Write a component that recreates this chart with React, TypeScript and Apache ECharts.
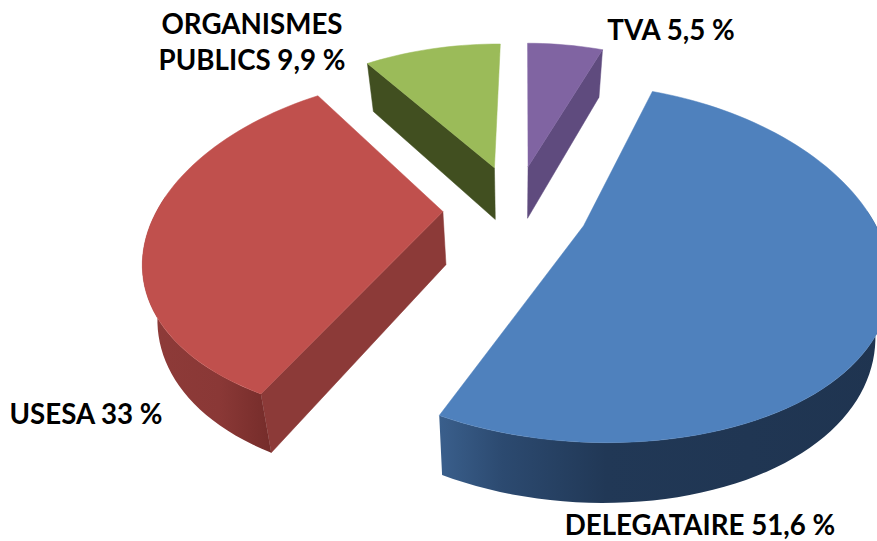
import React, { useEffect, useRef } from "react";
import * as echarts from "echarts";

const categories = ["DELEGATAIRE", "USESA", "ORGANISMES PUBLICS", "TVA"];
const shares = [51.6, 33, 9.9, 5.5];
const topColors = ["#4F81BD", "#C0504D", "#9BBB59", "#8064A2"];
const radialWallColors = ["#2a466c", "#8c3a38", "#414F20", "#5F4B7E"];
const arcStops: [number, string][][] = [
  [[0, "#3A5F8C"], [0.14, "#2C4A70"], [0.37, "#213856"], [1, "#1F3450"]],
  [[0, "#8E3B39"], [0.6, "#8A3836"], [1, "#752C2A"]],
  [[0, "#414F20"], [1, "#414F20"]],
  [[0, "#5F4B7E"], [1, "#5F4B7E"]],
];
const labelLines = [
  { text: "ORGANISMES", x: 252, y: 23 },
  { text: "PUBLICS 9,9 %", x: 252, y: 59 },
  { text: "TVA 5,5 %", x: 671, y: 29 },
  { text: "USESA 33 %", x: 86, y: 413 },
  { text: "DELEGATAIRE 51,6 %", x: 700, y: 524 },
];

const startAngle = 20.3;
const sliceNudgeX = [-2, 7, 3, 2];
const CX = 513, CY = 208, RX = 285, RY = 164, PX = 0.24, PY = 0.205, EXPLODE = 0.27, DEPTH = 53, SHRINK = 0.96;
const rad = (d: number) => (d * Math.PI) / 180;

function App() {
  const ref = useRef<HTMLDivElement>(null);
  useEffect(() => {
    document.body.style.margin = "0";
    const chart = echarts.init(ref.current!, undefined, { renderer: "svg" });
    const total = shares.reduce((a, b) => a + b, 0);
    let acc = 0;
    const rows = shares.map((v) => {
      const row = [v, acc];
      acc += v;
      return row;
    });
    const renderItem = (params: any, api: any) => {
      const i = params.dataIndex;
      const a0 = startAngle + (api.value(1) / total) * 360;
      const a1 = a0 + (api.value(0) / total) * 360;
      const mid = rad((a0 + a1) / 2);
      const ex = EXPLODE * Math.sin(mid);
      const ey = -EXPLODE * Math.cos(mid);
      const proj = (r: number, deg: number, low: boolean) => {
        const u = ex + r * Math.sin(rad(deg));
        const v = ey - r * Math.cos(rad(deg));
        const wx = 1 - PX * v;
        const wy = 1 - PY * v;
        const X = (RX * u) / wx;
        const Y = CY + (RY * v) / wy;
        const cx = CX + sliceNudgeX[i];
        return low ? [cx + X * SHRINK, Y + DEPTH / Math.sqrt(wy)] : [cx + X, Y];
      };
      const arc = (from: number, to: number, low: boolean) => {
        const n = Math.max(2, Math.ceil(Math.abs(to - from) / 2));
        const pts: number[][] = [];
        for (let k = 0; k <= n; k++) pts.push(proj(1, from + ((to - from) * k) / n, low));
        return pts;
      };
      const children: any[] = [];
      const wall = (deg: number, normal: number) => {
        if (-Math.cos(rad(normal)) > 0.02) {
          children.push({
            type: "polygon",
            shape: { points: [proj(0, deg, false), proj(1, deg, false), proj(1, deg, true), proj(0, deg, true)] },
            style: { fill: radialWallColors[i], stroke: radialWallColors[i], lineWidth: 0.5 },
          });
        }
      };
      wall(a0, a0 - 90);
      wall(a1, a1 + 90);
      for (const base of [0, 360]) {
        const from = Math.max(a0, base + 85);
        const to = Math.min(a1, base + 275);
        if (to > from) {
          children.push({
            type: "polygon",
            shape: { points: [...arc(from, to, false), ...arc(to, from, true)] },
            style: {
              fill: new echarts.graphic.LinearGradient(
                0, 0, 1, 0,
                arcStops[i].map(([o, c]) => ({ offset: o, color: c }))
              ),
            },
          });
        }
      }
      children.push({
        type: "polygon",
        shape: { points: [proj(0, a0, false), ...arc(a0, a1, false)] },
        style: { fill: topColors[i], stroke: topColors[i], lineWidth: 0.5 },
      });
      return { type: "group", children };
    };
    chart.setOption({
      animation: false,
      backgroundColor: "#ffffff",
      series: [
        {
          type: "custom",
          coordinateSystem: "none",
          name: categories.join(" / "),
          data: rows,
          renderItem,
          silent: true,
        },
      ],
      graphic: labelLines.map((l) => ({
        type: "text",
        x: l.x,
        y: l.y,
        z: 10,
        style: {
          text: l.text,
          font: "bold 27.7px Lato",
          fill: "#000000",
          textAlign: "center",
          textVerticalAlign: "middle",
        },
      })),
    });
    return () => chart.dispose();
  }, []);
  return <div ref={ref} style={{ width: 877, height: 541 }} />;
}

export default App;
